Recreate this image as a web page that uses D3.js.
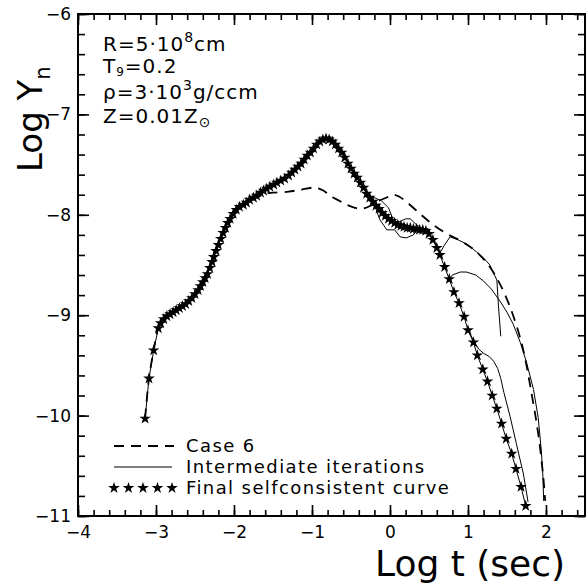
<!DOCTYPE html>
<html>
<head>
<meta charset="utf-8">
<script src="https://cdn.jsdelivr.net/npm/d3@7"></script>
<style>
  body { margin: 0; background: #fff; }
  text { font-family: "DejaVu Sans", sans-serif; fill: #000; }
</style>
</head>
<body>
<div id="svg-holder"></div>
<script>
let width = 588,
    height = 584

// axis ticks
let xMajor = [-4, -3, -2, -1, 0, 1, 2]
let yMajor = [-6, -7, -8, -9, -10, -11]

// Case 6 (dashed)
let case6 = [
    [-3.14, -10.03], [-3.09, -9.63], [-3.03, -9.35], [-2.97, -9.13], [-2.90, -9.04],
    [-2.78, -8.97], [-2.66, -8.91], [-2.54, -8.83], [-2.43, -8.71], [-2.34, -8.59],
    [-2.26, -8.42], [-2.17, -8.24], [-2.08, -8.08], [-1.97, -7.96], [-1.84, -7.89],
    [-1.71, -7.83], [-1.60, -7.79], [-1.50, -7.78], [-1.30, -7.77], [-1.15, -7.75],
    [-0.96, -7.73], [-0.85, -7.76], [-0.77, -7.81], [-0.65, -7.86], [-0.555, -7.90],
    [-0.45, -7.93], [-0.36, -7.94], [-0.25, -7.91], [-0.17, -7.87], [-0.05, -7.83],
    [0.04, -7.80], [0.12, -7.82], [0.21, -7.87], [0.385, -7.99], [0.555, -8.10],
    [0.73, -8.19], [0.93, -8.27], [1.11, -8.37], [1.28, -8.52], [1.41, -8.69],
    [1.52, -8.88], [1.62, -9.10], [1.71, -9.35], [1.815, -9.78], [1.90, -10.18],
    [1.965, -10.61], [1.99, -10.85]
]

// final selfconsistent curve (stars)
let finalCurve = [
    [-3.14, -10.03], [-3.09, -9.63], [-3.03, -9.35], [-2.97, -9.13], [-2.94, -9.08],
    [-2.90, -9.04], [-2.86, -9.01], [-2.82, -8.99], [-2.78, -8.97], [-2.74, -8.95],
    [-2.70, -8.93], [-2.66, -8.91], [-2.62, -8.89], [-2.58, -8.86], [-2.54, -8.83],
    [-2.50, -8.79], [-2.46, -8.75], [-2.43, -8.71], [-2.40, -8.67], [-2.37, -8.63],
    [-2.34, -8.59], [-2.31, -8.53], [-2.28, -8.47], [-2.26, -8.42], [-2.23, -8.36],
    [-2.20, -8.30], [-2.17, -8.24], [-2.14, -8.18], [-2.11, -8.13], [-2.08, -8.08],
    [-2.05, -8.04], [-2.01, -7.99], [-1.97, -7.95], [-1.93, -7.92], [-1.88, -7.90],
    [-1.84, -7.88], [-1.80, -7.85], [-1.75, -7.83], [-1.71, -7.81], [-1.66, -7.78],
    [-1.62, -7.76], [-1.58, -7.74], [-1.54, -7.72], [-1.49, -7.70], [-1.45, -7.68],
    [-1.40, -7.66], [-1.35, -7.64], [-1.30, -7.61], [-1.26, -7.58], [-1.22, -7.55],
    [-1.18, -7.52], [-1.14, -7.49], [-1.10, -7.45], [-1.06, -7.41], [-1.02, -7.38],
    [-0.98, -7.34], [-0.94, -7.30], [-0.90, -7.27], [-0.86, -7.25], [-0.82, -7.24],
    [-0.78, -7.25], [-0.74, -7.27], [-0.70, -7.30], [-0.66, -7.34], [-0.62, -7.38],
    [-0.58, -7.43], [-0.54, -7.49], [-0.50, -7.54], [-0.46, -7.59], [-0.42, -7.63],
    [-0.38, -7.68], [-0.34, -7.73], [-0.30, -7.79], [-0.26, -7.83], [-0.22, -7.87],
    [-0.18, -7.91], [-0.14, -7.94], [-0.10, -7.98], [-0.06, -8.01], [-0.02, -8.04],
    [0.02, -8.06], [0.06, -8.08], [0.10, -8.10], [0.14, -8.11], [0.18, -8.12],
    [0.22, -8.13], [0.26, -8.13], [0.30, -8.14], [0.34, -8.14], [0.38, -8.15],
    [0.42, -8.15], [0.46, -8.16], [0.50, -8.19], [0.55, -8.25], [0.60, -8.33],
    [0.64, -8.40], [0.70, -8.52], [0.76, -8.64], [0.82, -8.77], [0.885, -8.88],
    [0.95, -9.015], [1.00, -9.15], [1.07, -9.27], [1.12, -9.40], [1.19, -9.54],
    [1.25, -9.66], [1.31, -9.80], [1.37, -9.93], [1.43, -10.08], [1.49, -10.23],
    [1.56, -10.38], [1.615, -10.53], [1.68, -10.71], [1.74, -10.90]
]

// intermediate iterations, where they leave the final curve
let iterA = [
    [-0.26, -7.83], [-0.20, -7.83], [-0.11, -7.86], [-0.02, -7.93], [0.08, -8.12],
    [0.12, -8.07], [0.20, -8.04], [0.26, -8.04], [0.34, -8.10], [0.42, -8.14],
    [0.50, -8.19], [0.58, -8.29], [0.64, -8.38], [0.70, -8.30], [0.77, -8.22],
    [0.875, -8.25], [1.00, -8.30], [1.11, -8.37], [1.20, -8.43], [1.28, -8.50],
    [1.37, -8.65], [1.39, -8.90], [1.42, -9.21]
]
let iterB = [
    [-0.22, -7.87], [-0.19, -7.92], [-0.13, -8.05], [-0.04, -8.15], [0.06, -8.15],
    [0.13, -8.22], [0.21, -8.23], [0.30, -8.20], [0.36, -8.14], [0.42, -8.15]
]
let iterC = [
    [0.76, -8.64], [0.80, -8.60], [0.90, -8.57], [0.98, -8.57], [1.10, -8.60],
    [1.20, -8.66], [1.30, -8.74], [1.41, -8.86], [1.50, -8.97], [1.58, -9.09],
    [1.67, -9.27], [1.75, -9.47], [1.84, -9.74], [1.90, -10.02], [1.94, -10.35],
    [1.96, -10.60], [1.97, -10.85]
]
let iterD = [
    [1.00, -9.15], [1.05, -9.22], [1.10, -9.29], [1.14, -9.34], [1.20, -9.38],
    [1.27, -9.41], [1.33, -9.46], [1.38, -9.53], [1.42, -9.63], [1.46, -9.77],
    [1.54, -10.01], [1.62, -10.28], [1.71, -10.58], [1.77, -10.86]
]

let svg = d3.select("#svg-holder").append("svg")
    .attr("width", width)
    .attr("height", height)

let x = d3.scaleLinear()
    .domain([-4, 2.5])
    .range([78, 585])

let y = d3.scaleLinear()
    .domain([-11, -6])
    .range([516, 14])

let fmt = d => d3.format("d")(d)

// minor ticks every 0.2
let xMinor = d3.range(-4, 2.51, 0.2).map(d => +d.toFixed(1))
let yMinor = d3.range(-11, -5.99, 0.2).map(d => +d.toFixed(1))

function styleAxis(g) {
    g.select(".domain").remove()
    g.selectAll("line").attr("stroke", "black").attr("stroke-width", 1.6)
    g.selectAll("text").style("font-size", "17px").attr("fill", "black")
}

// bottom
svg.append("g").attr("transform", `translate(0,${y(-11)})`)
    .call(d3.axisBottom(x).tickValues(xMinor).tickSize(-6).tickFormat(""))
    .call(styleAxis)
svg.append("g").attr("transform", `translate(0,${y(-11)})`)
    .call(d3.axisBottom(x).tickValues(xMajor).tickSize(-11).tickPadding(10).tickFormat(fmt))
    .call(styleAxis)
// top
svg.append("g").attr("transform", `translate(0,${y(-6)})`)
    .call(d3.axisTop(x).tickValues(xMinor).tickSize(-6).tickFormat(""))
    .call(styleAxis)
svg.append("g").attr("transform", `translate(0,${y(-6)})`)
    .call(d3.axisTop(x).tickValues(xMajor).tickSize(-11).tickFormat(""))
    .call(styleAxis)
// left
svg.append("g").attr("transform", `translate(${x(-4)},0)`)
    .call(d3.axisLeft(y).tickValues(yMinor).tickSize(-7).tickFormat(""))
    .call(styleAxis)
svg.append("g").attr("transform", `translate(${x(-4)},0)`)
    .call(d3.axisLeft(y).tickValues(yMajor).tickSize(-11).tickPadding(7).tickFormat(fmt))
    .call(styleAxis)
// right
svg.append("g").attr("transform", `translate(${x(2.5)},0)`)
    .call(d3.axisRight(y).tickValues(yMinor).tickSize(-7).tickFormat(""))
    .call(styleAxis)
svg.append("g").attr("transform", `translate(${x(2.5)},0)`)
    .call(d3.axisRight(y).tickValues(yMajor).tickSize(-11).tickFormat(""))
    .call(styleAxis)

// frame
svg.append("rect")
    .attr("x", x(-4))
    .attr("y", y(-6))
    .attr("width", x(2.5) - x(-4))
    .attr("height", y(-11) - y(-6))
    .attr("fill", "none")
    .attr("stroke", "black")
    .attr("stroke-width", 2)

let smooth = d3.line()
    .x(d => x(d[0]))
    .y(d => y(d[1]))
    .curve(d3.curveCatmullRom.alpha(0.5))

let straight = d3.line()
    .x(d => x(d[0]))
    .y(d => y(d[1]))

// curves
svg.append("path")
    .attr("d", smooth(case6))
    .attr("fill", "none")
    .attr("stroke", "black")
    .attr("stroke-width", 1.8)
    .attr("stroke-dasharray", "10,7")

;[finalCurve, iterA, iterB, iterC, iterD].forEach(s => {
    svg.append("path")
        .attr("d", straight(s))
        .attr("fill", "none")
        .attr("stroke", "black")
        .attr("stroke-width", 1)
        .attr("stroke-linejoin", "round")
})

let star = d3.symbol().type(d3.symbolStar).size(42)

svg.append("g")
    .selectAll("path")
    .data(finalCurve)
    .enter()
    .append("path")
        .attr("transform", d => `translate(${x(d[0])},${y(d[1])})`)
        .attr("d", star)
        .attr("fill", "black")

// axis titles
svg.append("text")
    .attr("x", 375)
    .attr("y", 576)
    .style("font-size", "36px")
    .text("Log t (sec)")

let yt = svg.append("text")
    .attr("transform", "translate(42,172) rotate(-90)")
    .style("font-size", "34px")
yt.append("tspan").text("Log Y")
yt.append("tspan").attr("dy", 8).style("font-size", "21px").text("n")

// annotation
let ann = svg.append("g").style("font-size", "20px").style("letter-spacing", "1px")
let t1 = ann.append("text").attr("x", 103).attr("y", 51)
t1.append("tspan").text("R=5·10")
t1.append("tspan").attr("dy", -9).style("font-size", "14px").text("8")
t1.append("tspan").attr("dy", 9).text("cm")

let t2 = ann.append("text").attr("x", 103).attr("y", 73)
t2.append("tspan").text("T")
t2.append("tspan").attr("dy", 3).style("font-size", "12px").text("9")
t2.append("tspan").attr("dy", -3).text("=0.2")

let t3 = ann.append("text").attr("x", 103).attr("y", 99)
t3.append("tspan").text("ρ=3·10")
t3.append("tspan").attr("dy", -9).style("font-size", "14px").text("3")
t3.append("tspan").attr("dy", 9).text("g/ccm")

let t4 = ann.append("text").attr("x", 103).attr("y", 123)
t4.append("tspan").text("Z=0.01Z")
t4.append("tspan").attr("dy", 4).style("font-size", "14px").text("⊙")

// legend
let legend = svg.append("g")
legend.append("line")
    .attr("x1", 114).attr("x2", 174)
    .attr("y1", 446).attr("y2", 446)
    .attr("stroke", "black").attr("stroke-width", 1.8)
    .attr("stroke-dasharray", "10,7")
legend.append("line")
    .attr("x1", 114).attr("x2", 172)
    .attr("y1", 467).attr("y2", 467)
    .attr("stroke", "black").attr("stroke-width", 1)
legend.selectAll(".lstar")
    .data(d3.range(5))
    .enter()
    .append("path")
        .attr("class", "lstar")
        .attr("transform", i => `translate(${114 + i * 14.5},488)`)
        .attr("d", star)
        .attr("fill", "black")

let labels = ["Case 6", "Intermediate iterations", "Final selfconsistent curve"]
legend.selectAll(".ltext")
    .data(labels)
    .enter()
    .append("text")
        .attr("class", "ltext")
        .attr("x", 186)
        .attr("y", (d, i) => 452 + i * 21)
        .style("font-size", "18px")
        .style("letter-spacing", "1.4px")
        .text(d => d)
</script>
</body>
</html>
